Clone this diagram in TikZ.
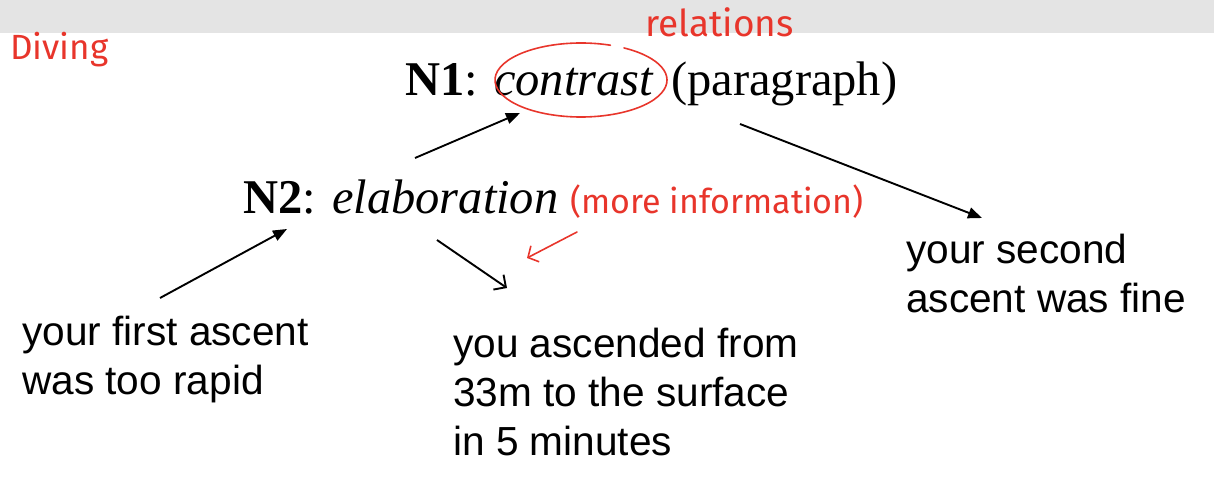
\documentclass[tikz,border=0pt]{standalone}
\usepackage{fontspec}
\setmainfont{Liberation Serif}
\newfontfamily\arialfont{Liberation Sans}
\newfontfamily\handfont{Fira Sans}
\usetikzlibrary{arrows.meta}
\definecolor{barGray}{HTML}{E4E4E4}
\definecolor{inkRed}{HTML}{E8352B}
\tikzset{
  relnode/.style={anchor=base west, inner sep=0pt, font=\fontsize{48.5}{56}\selectfont},
  leafnode/.style={anchor=base west, inner sep=0pt, align=left, font=\arialfont\fontsize{40.6}{49}\selectfont},
  conn/.style={line width=1.9pt, -{Triangle[length=14pt,width=11pt]}},
  openconn/.style={line width=1.9pt, -{Straight Barb[length=9pt,width=18pt,line width=1.9pt]}},
  handnote/.style={anchor=base west, inner sep=0pt, text=inkRed, font=\handfont\fontsize{35}{40}\selectfont},
  handline/.style={draw=inkRed, line width=1.6pt, line cap=round}
}
\begin{document}
\begin{tikzpicture}[x=1pt,y=1pt]
\useasboundingbox (0,0) rectangle (1214,485);
\fill[barGray] (0,452) rectangle (1214,485);
% relation nodes
\node[relnode] (n1) at (405,389) {\textbf{N1}: \textit{contrast}\hspace{5pt} (paragraph)};
\node[relnode] (n2) at (243,271) {\textbf{N2}: \textit{elaboration}};
% leaves (base anchor = last line)
\node[leafnode] (first) at (22,91) {your first ascent\\was too rapid};
\node[leafnode] (asc) at (453,30) {you ascended from\\33m to the surface\\in 5 minutes};
\node[leafnode] (second) at (906,173) {your second\\ascent was fine};
% connector end points
\coordinate (aS) at (160,187); \coordinate (aE) at (287,256);
\coordinate (bS) at (415,327); \coordinate (bE) at (520,372);
\coordinate (cS) at (740,361); \coordinate (cE) at (982,267);
\coordinate (dS) at (437,245); \coordinate (dE) at (507,197);
\draw[conn] (aS) -- (aE);
\draw[conn] (bS) -- (bE);
\draw[conn] (cS) -- (cE);
\draw[openconn] (dS) -- (dE);
% handwritten annotations
\node[handnote] (diving) at (10,425) {Diving};
\node[handnote, font=\handfont\fontsize{37}{40}\selectfont] (rel) at (645,448) {relations};
\node[handnote, font=\handfont\fontsize{34}{40}\selectfont] (more) at (570,271) {(more information)};
\coordinate (ec) at (581,405);
\draw[handline] ([shift={(70:86pt and 37pt)}]ec) arc[start angle=70, end angle=420, x radius=86pt, y radius=37pt];
\coordinate (rS) at (577,253); \coordinate (rE) at (527,227);
\draw[handline, -{Straight Barb[length=8pt,width=18pt,line width=1.6pt]}] (rS) -- (rE);
\end{tikzpicture}
\end{document}
